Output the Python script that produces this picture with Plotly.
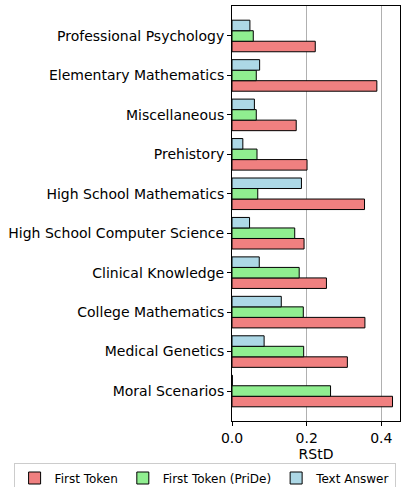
import plotly.graph_objects as go

categories = ["Moral Scenarios", "Medical Genetics", "College Mathematics", "Clinical Knowledge",
              "High School Computer Science", "High School Mathematics", "Prehistory",
              "Miscellaneous", "Elementary Mathematics", "Professional Psychology"]
first_token = [0.430, 0.309, 0.356, 0.253, 0.193, 0.355, 0.201, 0.172, 0.388, 0.223]
first_token_pride = [0.264, 0.192, 0.191, 0.180, 0.168, 0.069, 0.067, 0.065, 0.065, 0.057]
text_answer = [0.001, 0.086, 0.132, 0.073, 0.047, 0.186, 0.029, 0.060, 0.074, 0.048]
x_ticks = [0.0, 0.2, 0.4]

series = [("First Token", first_token, "#F08080"),
          ("First Token (PriDe)", first_token_pride, "#90EE90"),
          ("Text Answer", text_answer, "#ADD8E6")]

fig = go.Figure()
for name, vals, color in series:
    fig.add_trace(go.Bar(y=categories, x=vals, orientation="h", name=name,
                         marker=dict(color=color, line=dict(color="black", width=1))))

font = dict(family="DejaVu Sans", size=14, color="black")
fig.update_layout(
    width=412, height=487,
    margin=dict(l=232, r=12, t=6, b=66, autoexpand=False),
    barmode="group", bargap=0.2, bargroupgap=0,
    plot_bgcolor="white", paper_bgcolor="white",
    font=font,
    showlegend=True,
    legend=dict(orientation="h", xref="paper", yref="paper",
                x=-1.30, y=-0.10, xanchor="left", yanchor="top",
                bordercolor="#cccccc", borderwidth=1,
                font=dict(family="DejaVu Sans", size=12, color="black"),
                traceorder="normal", itemwidth=30),
    xaxis=dict(range=[0, 0.45], tickvals=x_ticks, ticktext=["0.0", "0.2", "0.4"],
               showgrid=True, gridcolor="#b0b0b0", gridwidth=1,
               showline=True, linecolor="black", linewidth=1, mirror=True,
               ticks="outside", ticklen=4, tickcolor="black", zeroline=False, automargin=True,
               title=dict(text="RStD", font=font, standoff=2)),
    yaxis=dict(categoryorder="array", categoryarray=categories, range=[-0.76, 9.76],
               showgrid=False, showline=True, linecolor="black", linewidth=1, mirror=True,
               ticks="outside", ticklen=4, tickcolor="black", automargin=False),
)
fig.write_html("out.html", config={"displayModeBar": False},
               post_script="document.body.style.margin='0px';")
